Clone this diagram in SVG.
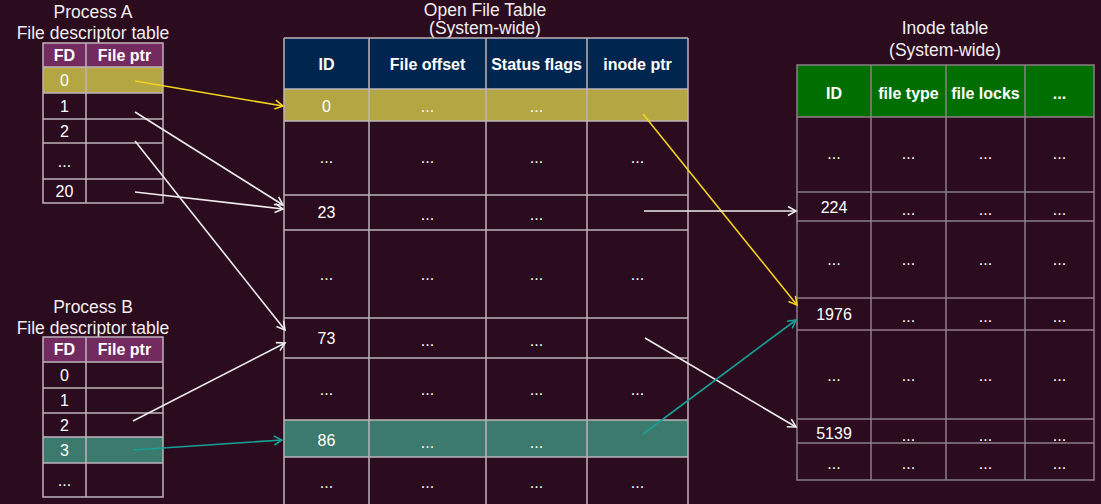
<svg xmlns="http://www.w3.org/2000/svg" width="1101" height="504" viewBox="0 0 1101 504">
<defs>
<style>
text{font-family:"Liberation Sans",Arial,sans-serif;fill:#ffffff;text-anchor:middle}
.t{font-size:17.5px;fill:#f2eef0}
.h{font-size:16px;font-weight:bold}
.c{font-size:16px}
.g{fill:none;stroke:#bdb4b9;stroke-width:1.5}
.gi{fill:none;stroke:#8e7f88;stroke-width:1.5}
.w{stroke:#ececec;stroke-width:1.6;fill:none}
.y{stroke:#f2d21e;stroke-width:1.6;fill:none}
.tl{stroke:#16a196;stroke-width:1.6;fill:none}
</style>
<marker id="mw" markerWidth="12" markerHeight="12" refX="10" refY="6" orient="auto" markerUnits="userSpaceOnUse"><path d="M2,1.5 L10,6 L2,10.5" fill="none" stroke="#ececec" stroke-width="1.6"/></marker>
<marker id="my" markerWidth="12" markerHeight="12" refX="10" refY="6" orient="auto" markerUnits="userSpaceOnUse"><path d="M2,1.5 L10,6 L2,10.5" fill="none" stroke="#f2d21e" stroke-width="1.6"/></marker>
<marker id="mt" markerWidth="12" markerHeight="12" refX="10" refY="6" orient="auto" markerUnits="userSpaceOnUse"><path d="M2,1.5 L10,6 L2,10.5" fill="none" stroke="#16a196" stroke-width="1.6"/></marker>
</defs>
<rect width="1101" height="504" fill="#2b0b1e"/>

<g id="procA">
<text class="t" x="93" y="18">Process A</text>
<text class="t" x="93" y="39">File descriptor table</text>
<rect x="43" y="43" width="120" height="24" fill="#732a5f"/>
<rect x="43" y="67" width="120" height="26" fill="#b4a642"/>
<path class="g" d="M43,43 H163 V203 H43 Z M86,43 V203 M43,67 H163 M43,93 H163 M43,119 H163 M43,143 H163 M43,179 H163"/>
<text class="h" x="64.5" y="61">FD</text>
<text class="h" x="124.5" y="61">File ptr</text>
<text class="c" x="64.5" y="86">0</text>
<text class="c" x="64.5" y="112">1</text>
<text class="c" x="64.5" y="137">2</text>
<text class="c" x="64.5" y="167">...</text>
<text class="c" x="64.5" y="197">20</text>
</g>

<g id="procB">
<text class="t" x="93" y="313">Process B</text>
<text class="t" x="93" y="334">File descriptor table</text>
<rect x="43" y="337" width="120" height="25" fill="#732a5f"/>
<rect x="43" y="437" width="120" height="26" fill="#3d7a6e"/>
<path class="g" d="M43,337 H163 V497 H43 Z M86,337 V497 M43,362 H163 M43,388 H163 M43,413 H163 M43,437 H163 M43,463 H163"/>
<text class="h" x="64.5" y="355">FD</text>
<text class="h" x="124.5" y="355">File ptr</text>
<text class="c" x="64.5" y="381">0</text>
<text class="c" x="64.5" y="406">1</text>
<text class="c" x="64.5" y="431">2</text>
<text class="c" x="64.5" y="456">3</text>
<text class="c" x="64.5" y="486">...</text>
</g>

<g id="openFileTable">
<text class="t" x="485" y="16">Open File Table</text>
<text class="t" x="485" y="34">(System-wide)</text>
<rect x="284" y="38" width="404" height="51" fill="#00264f"/>
<rect x="284" y="89" width="404" height="32" fill="#b4a642"/>
<rect x="284" y="420" width="404" height="37" fill="#3d7a6e"/>
<path class="g" d="M284,38 H688 M284,38 V504 M369,38 V504 M486,38 V504 M587,38 V504 M688,38 V504 M284,89 H688 M284,121 H688 M284,195 H688 M284,230 H688 M284,318 H688 M284,358 H688 M284,420 H688 M284,457 H688"/>
<text class="h" x="326.5" y="70">ID</text>
<text class="h" x="427.5" y="70">File offset</text>
<text class="h" x="536.5" y="70">Status flags</text>
<text class="h" x="637.5" y="70">inode ptr</text>
<text class="c" x="326.5" y="112">0</text>
<text class="c" x="427.5" y="112">...</text>
<text class="c" x="536.5" y="112">...</text>
<text class="c" x="326.5" y="163">...</text><text class="c" x="427.5" y="163">...</text><text class="c" x="536.5" y="163">...</text><text class="c" x="637.5" y="163">...</text>
<text class="c" x="326.5" y="218">23</text><text class="c" x="427.5" y="220">...</text><text class="c" x="536.5" y="220">...</text>
<text class="c" x="326.5" y="280">...</text><text class="c" x="427.5" y="280">...</text><text class="c" x="536.5" y="280">...</text><text class="c" x="637.5" y="280">...</text>
<text class="c" x="326.5" y="344">73</text><text class="c" x="427.5" y="346">...</text><text class="c" x="536.5" y="346">...</text>
<text class="c" x="326.5" y="395">...</text><text class="c" x="427.5" y="395">...</text><text class="c" x="536.5" y="395">...</text><text class="c" x="637.5" y="395">...</text>
<text class="c" x="326.5" y="446">86</text><text class="c" x="427.5" y="448">...</text><text class="c" x="536.5" y="448">...</text>
<text class="c" x="326.5" y="488">...</text><text class="c" x="427.5" y="488">...</text><text class="c" x="536.5" y="488">...</text><text class="c" x="637.5" y="488">...</text>
</g>

<g id="inodeTable">
<text class="t" x="945" y="34">Inode table</text>
<text class="t" x="945" y="56">(System-wide)</text>
<rect x="797" y="65" width="297" height="52" fill="#006e00"/>
<path class="gi" d="M797,65 H1094 V480 H797 Z M871,65 V480 M946,65 V480 M1025,65 V480 M797,117 H1094 M797,192 H1094 M797,221 H1094 M797,298 H1094 M797,330 H1094 M797,419 H1094 M797,443 H1094"/>
<text class="h" x="834" y="99">ID</text>
<text class="h" x="908.5" y="99">file type</text>
<text class="h" x="985.5" y="99">file locks</text>
<text class="h" x="1059.5" y="99">...</text>
<text class="c" x="834" y="159">...</text><text class="c" x="908.5" y="159">...</text><text class="c" x="985.5" y="159">...</text><text class="c" x="1059.5" y="159">...</text>
<text class="c" x="834" y="213">224</text><text class="c" x="908.5" y="215">...</text><text class="c" x="985.5" y="215">...</text><text class="c" x="1059.5" y="215">...</text>
<text class="c" x="834" y="265">...</text><text class="c" x="908.5" y="265">...</text><text class="c" x="985.5" y="265">...</text><text class="c" x="1059.5" y="265">...</text>
<text class="c" x="834" y="320">1976</text><text class="c" x="908.5" y="322">...</text><text class="c" x="985.5" y="322">...</text><text class="c" x="1059.5" y="322">...</text>
<text class="c" x="834" y="381">...</text><text class="c" x="908.5" y="381">...</text><text class="c" x="985.5" y="381">...</text><text class="c" x="1059.5" y="381">...</text>
<text class="c" x="834" y="439">5139</text><text class="c" x="908.5" y="441">...</text><text class="c" x="985.5" y="441">...</text><text class="c" x="1059.5" y="441">...</text>
<text class="c" x="834" y="469">...</text><text class="c" x="908.5" y="469">...</text><text class="c" x="985.5" y="469">...</text><text class="c" x="1059.5" y="469">...</text>
</g>

<g id="connectors">
<line class="y" x1="135" y1="81" x2="283" y2="106" marker-end="url(#my)"/>
<line class="w" x1="135" y1="112" x2="283" y2="205" marker-end="url(#mw)"/>
<line class="w" x1="135" y1="141" x2="285" y2="330" marker-end="url(#mw)"/>
<line class="w" x1="135" y1="192" x2="283" y2="209" marker-end="url(#mw)"/>
<line class="w" x1="133" y1="421" x2="285" y2="343" marker-end="url(#mw)"/>
<line class="tl" x1="133" y1="450" x2="282" y2="440" marker-end="url(#mt)"/>
<line class="y" x1="643" y1="114" x2="797" y2="305" marker-end="url(#my)"/>
<line class="w" x1="644" y1="211" x2="796" y2="211" marker-end="url(#mw)"/>
<line class="w" x1="645" y1="338" x2="796" y2="427" marker-end="url(#mw)"/>
<line class="tl" x1="643" y1="434" x2="796" y2="320" marker-end="url(#mt)"/>
</g>
</svg>
